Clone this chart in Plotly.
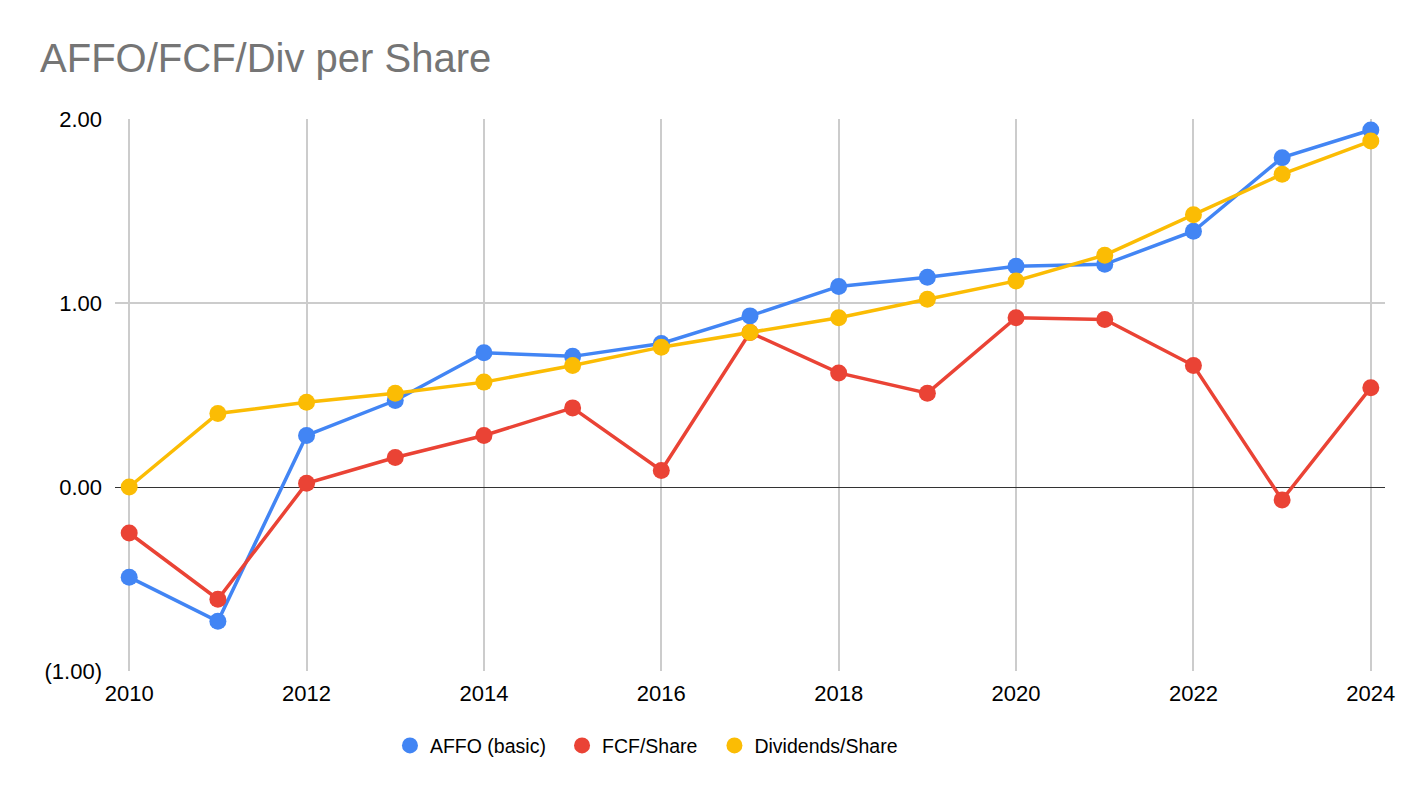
import plotly.graph_objects as go

years = list(range(2010, 2025))
affo = [-0.49, -0.73, 0.28, 0.47, 0.73, 0.71, 0.78, 0.93, 1.09, 1.14, 1.20, 1.21, 1.39, 1.79, 1.94]
fcf = [-0.25, -0.61, 0.02, 0.16, 0.28, 0.43, 0.09, 0.84, 0.62, 0.51, 0.92, 0.91, 0.66, -0.07, 0.54]
divs = [0.00, 0.40, 0.46, 0.51, 0.57, 0.66, 0.76, 0.84, 0.92, 1.02, 1.12, 1.26, 1.48, 1.70, 1.88]

names = ["AFFO (basic)", "FCF/Share", "Dividends/Share"]
colors = ["#4285F4", "#EA4335", "#FBBC04"]
y_ticks = [-1, 0, 1, 2]
y_text = ["(1.00)", "0.00", "1.00", "2.00"]
x_ticks = list(range(2010, 2025, 2))

# legend slot per series (paper x of each entry)
leg_ids = ["legend", "legend2", "legend3"]
leg_x = [0.2165, 0.352, 0.472]

fig = go.Figure()

for name, vals, col in zip(names, [affo, fcf, divs], colors):
    fig.add_trace(go.Scatter(
        x=years, y=vals, name=name, mode="lines+markers",
        line=dict(color=col, width=3.5),
        marker=dict(color=col, size=17),
        showlegend=False))

# legend entries: dots only, like the sheets chart
for name, col, lid in zip(names, colors, leg_ids):
    fig.add_trace(go.Scatter(
        x=[None], y=[None], name=name, mode="markers", legend=lid,
        marker=dict(color=col, size=19)))

# note: page body adds 8px margin, so offsets below are shifted by 8
fig.update_layout(
    width=1424, height=798,
    paper_bgcolor="white", plot_bgcolor="white",
    font=dict(family="Liberation Sans, Arial, sans-serif", size=22, color="#000000"),
    title=dict(text="AFFO/FCF/Div per Share", x=0.0225, xanchor="left",
               yref="container", y=0.937, yanchor="middle",
               font=dict(size=40, color="#757575")),
    margin=dict(l=107, r=47, t=111, b=135),
    xaxis=dict(range=[2009.84, 2024.16], tickvals=x_ticks, ticktext=[str(v) for v in x_ticks],
               showgrid=True, gridcolor="#cccccc", gridwidth=1.5, zeroline=False,
               showline=False, ticks="", ticklen=0, ticklabelstandoff=7),
    yaxis=dict(range=[-1, 2], tickvals=y_ticks, ticktext=y_text,
               showgrid=True, gridcolor="#cccccc", gridwidth=1.5,
               zeroline=True, zerolinecolor="#333333", zerolinewidth=1.2,
               showline=False, ticks="", ticklabelstandoff=12),
)

for lid, lx in zip(leg_ids, leg_x):
    fig.update_layout({lid: dict(orientation="h", x=lx, xanchor="left", y=-0.1, yanchor="top",
                                 font=dict(size=19.5), itemwidth=30,
                                 bgcolor="rgba(0,0,0,0)")})

fig.write_html("out.html")
